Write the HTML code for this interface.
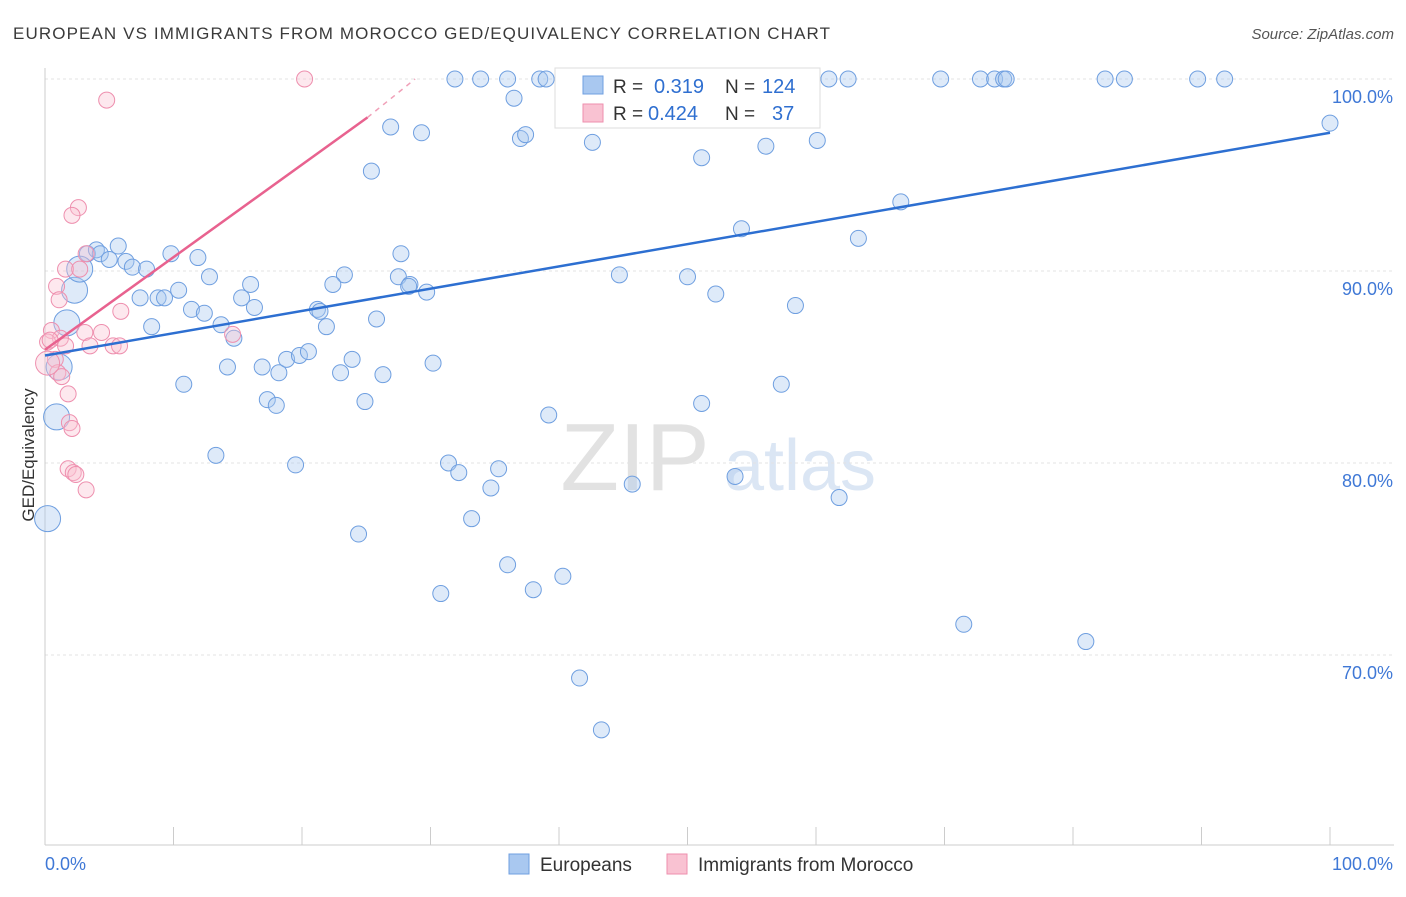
<!DOCTYPE html>
<html><head><meta charset="utf-8"><style>
body{margin:0;background:#fff;font-family:"Liberation Sans",sans-serif;}
svg text{font-family:"Liberation Sans",sans-serif;}
</style></head><body>
<svg id="chart" width="1406" height="892" xmlns="http://www.w3.org/2000/svg">
<text x="13" y="39" font-size="17" fill="#3a3a3a" textLength="817" lengthAdjust="spacing">EUROPEAN VS IMMIGRANTS FROM MOROCCO GED/EQUIVALENCY CORRELATION CHART</text>
<text x="1394" y="39" font-size="15" fill="#555" font-style="italic" text-anchor="end">Source: ZipAtlas.com</text>
<g>
<text x="635" y="490" font-size="96" fill="#e2e2e2" font-family="Liberation Serif" text-anchor="middle">ZIP</text>
<text x="800" y="490" font-size="72" fill="#dbe6f4" text-anchor="middle">atlas</text>
</g>
<g id="grid"></g>
<g id="axes"></g>
<g id="points"></g>
<g id="trends"></g>
<text transform="translate(34,455) rotate(-90)" font-size="17" fill="#333" text-anchor="middle">GED/Equivalency</text>
<g>
<rect x="555" y="68" width="265" height="60" fill="#fff" stroke="#ddd"/>
<rect x="583" y="76" width="20" height="18" fill="#a9c8f0" stroke="#6f9fe0"/>
<rect x="583" y="104" width="20" height="18" fill="#f9c2d2" stroke="#ee8fae"/>
<text x="613" y="93" font-size="19" fill="#333">R =</text>
<text x="654" y="93" font-size="20" fill="#2f6fd0">0.319</text>
<text x="725" y="93" font-size="19" fill="#333">N =</text>
<text x="762" y="93" font-size="20" fill="#2f6fd0">124</text>
<text x="613" y="120" font-size="19" fill="#333">R =</text>
<text x="648" y="120" font-size="20" fill="#2f6fd0">0.424</text>
<text x="725" y="120" font-size="19" fill="#333">N =</text>
<text x="772" y="120" font-size="20" fill="#2f6fd0">37</text>
</g>
<g>
<rect x="509" y="854" width="20" height="20" fill="#a9c8f0" stroke="#6f9fe0"/>
<text x="540" y="871" font-size="19" fill="#333">Europeans</text>
<rect x="667" y="854" width="20" height="20" fill="#f9c2d2" stroke="#ee8fae"/>
<text x="698" y="871" font-size="19" fill="#333">Immigrants from Morocco</text>
</g>
</svg>
<script>
const yTicks=[100,90,80,70];
const yTickLabels=["100.0%","90.0%","80.0%","70.0%"];
const xLabels=["0.0%","100.0%"];
const blueX=[31.9,33.9,36.0,38.5,39.0,41.4,43.2,46.0,47.9,49.6,51.8,53.5,61.0,62.5,69.7,72.8,73.9,74.6,74.8,82.5,84.0,89.7,91.8,
36.5,26.9,29.3,37.0,37.4,42.6,51.1,56.1,60.1,100,25.4,66.6,54.2,63.3,27.7,3.3,4.0,5.7,4.3,5.0,6.3,6.8,7.9,9.8,11.9,12.8,16.0,23.3,22.4,27.5,28.4,29.7,28.3,44.7,50.0,52.2,58.4,7.4,8.8,9.3,10.4,11.4,12.4,15.3,16.3,21.2,21.4,21.9,25.8,8.3,13.7,14.7,14.2,16.9,18.2,18.8,19.8,20.5,23.0,23.9,26.3,30.2,10.8,17.3,18.0,24.9,39.2,51.1,57.3,13.3,19.5,31.4,32.2,35.3,34.7,45.7,53.7,61.8,33.2,24.4,36.0,38.0,40.3,30.8,71.5,81.0,41.6,43.3];
const blueY=[100,100,100,100,100,100,100,100,100,100,100,100,100,100,100,100,100,100,100,100,100,100,100,
99.0,97.5,97.2,96.9,97.1,96.7,95.9,96.5,96.8,97.7,95.2,93.6,92.2,91.7,90.9,90.9,91.1,91.3,90.9,90.6,90.5,90.2,90.1,90.9,90.7,89.7,89.3,89.8,89.3,89.7,89.3,88.9,89.2,89.8,89.7,88.8,88.2,88.6,88.6,88.6,89.0,88.0,87.8,88.6,88.1,88.0,87.9,87.1,87.5,87.1,87.2,86.5,85.0,85.0,84.7,85.4,85.6,85.8,84.7,85.4,84.6,85.2,84.1,83.3,83.0,83.2,82.5,83.1,84.1,80.4,79.9,80.0,79.5,79.7,78.7,78.9,79.3,78.2,77.1,76.3,74.7,73.4,74.1,73.2,71.6,70.7,68.8,66.1];
const blueBigX=[2.3,1.7,1.1,0.9,0.2,2.7];
const blueBigY=[89.0,87.3,85.0,82.4,77.1,90.1];
const pinkX=[20.2,4.8,2.6,2.1,3.2,1.6,2.7,0.9,1.1,5.9,0.5,1.2,0.2,3.1,4.4,5.3,5.8,3.5,1.6,0.8,1.0,1.3,1.8,1.9,2.1,1.8,2.2,2.4,3.2,14.6,0.4];
const pinkY=[100,98.9,93.3,92.9,90.9,90.1,90.1,89.2,88.5,87.9,86.9,86.5,86.3,86.8,86.8,86.1,86.1,86.1,86.1,85.4,84.7,84.5,83.6,82.1,81.8,79.7,79.5,79.4,78.6,86.7,86.4];
const pinkBigX=[0.2];
const pinkBigY=[85.2];
const blueTrend=[[0,85.6],[100,97.2]];
const pinkTrend=[[0,85.9],[25.1,98.0]];
const pinkDash=[[25.1,98.0],[28.8,100]];

const NS="http://www.w3.org/2000/svg";
const X=v=>45+v*12.85, Y=v=>79+(100-v)*19.2;
function mk(tag,attrs,parent){const e=document.createElementNS(NS,tag);for(const k in attrs)e.setAttribute(k,attrs[k]);document.getElementById(parent).appendChild(e);return e;}
yTicks.forEach((t,i)=>{
 const l=mk('line',{x1:45,x2:1394,y1:Y(t),y2:Y(t),stroke:'#e3e3e3','stroke-dasharray':'3,3'},'grid');
 
 
 const tx=mk('text',{x:1393,y:Y(t)+24,'font-size':18,fill:'#3f78d6','text-anchor':'end'},'grid');
 tx.textContent=yTickLabels[i];
 
 
});
let ax=mk('line',{x1:45,x2:1394,y1:845,y2:845,stroke:'#ccc'},'axes');


let ay=mk('line',{x1:45,x2:45,y1:68,y2:845,stroke:'#ccc'},'axes');


for(let i=0;i<=10;i++){const t=mk('line',{x1:X(i*10),x2:X(i*10),y1:827,y2:845,stroke:'#ccc'},'axes');
 
 }
[[0,'start',45],[100,'end',1393]].forEach((d,i)=>{const t=mk('text',{x:d[2],y:870,'font-size':18,fill:'#3f78d6','text-anchor':d[1]},'axes');t.textContent=xLabels[i];
 
 });
function pts(xs,ys,r,fill,stroke,name){xs.forEach((x,i)=>{const c=mk('circle',{cx:X(x),cy:Y(ys[i]),r:r,fill:fill,'fill-opacity':0.38,stroke:stroke,'stroke-width':1},'points');
 
 });}
pts(blueX,blueY,8,'#a9c8f0','#6f9fe0','european-point');
pts(blueBigX,blueBigY,13,'#a9c8f0','#6f9fe0','european-point');
pts(pinkX,pinkY,8,'#f9c2d2','#ee8fae','morocco-point');
pts(pinkBigX,pinkBigY,12,'#f9c2d2','#ee8fae','morocco-point');
let bl=mk('line',{x1:X(blueTrend[0][0]),y1:Y(blueTrend[0][1]),x2:X(blueTrend[1][0]),y2:Y(blueTrend[1][1]),stroke:'#2d6fd1','stroke-width':2.5},'trends');


let pl=mk('line',{x1:X(pinkTrend[0][0]),y1:Y(pinkTrend[0][1]),x2:X(pinkTrend[1][0]),y2:Y(pinkTrend[1][1]),stroke:'#e8628f','stroke-width':2.5},'trends');


let pd=mk('line',{x1:X(pinkDash[0][0]),y1:Y(pinkDash[0][1]),x2:X(pinkDash[1][0]),y2:Y(pinkDash[1][1]),stroke:'#f0a0b8','stroke-width':1.5,'stroke-dasharray':'5,5'},'trends');


</script>
</body></html>
